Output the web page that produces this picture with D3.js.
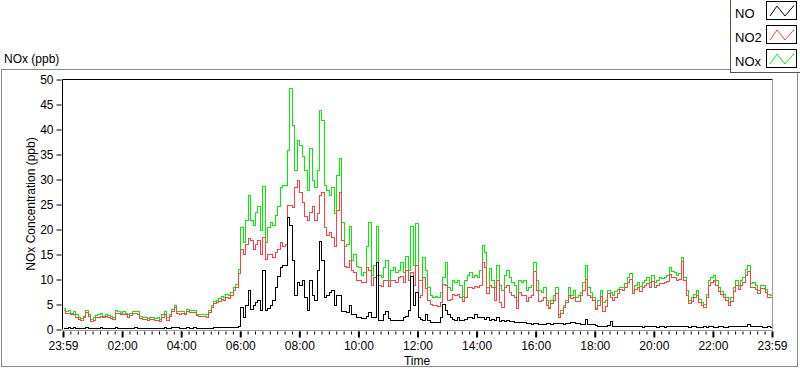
<!DOCTYPE html>
<html>
<head>
<meta charset="utf-8">
<script src="https://cdn.jsdelivr.net/npm/d3@7/dist/d3.min.js"></script>
<style>
  html, body { margin: 0; padding: 0; background: #fff; }
  svg { display: block; font-family: "Liberation Sans", Arial, sans-serif; }
</style>
</head>
<body>
<svg id="chart" width="800" height="369"></svg>
<script>
// ---- Data (5-minute samples starting 23:59) ----
const stepMinutes = 5;
const tickLabels = ["23:59","02:00","04:00","06:00","08:00","10:00","12:00","14:00","16:00","18:00","20:00","22:00","23:59"];
const yTicks = [0,5,10,15,20,25,30,35,40,45,50];
const seriesNames = ["NO","NO2","NOx"];
const seriesColors = ["#000000","#ff4040","#00f000"];

const NOx = [
4.4,3.8,3.9,3.4,3.6,3.0,2.5,2.3,2.8,4.0,3.1,2.2,
2.4,2.9,3.0,3.3,2.8,3.1,2.9,2.7,2.6,3.9,3.7,3.4,
3.6,3.4,3.0,3.3,3.7,3.8,3.6,2.7,2.5,2.6,2.3,2.5,
2.5,2.3,2.4,2.2,3.0,3.6,2.4,3.2,4.2,5.0,3.8,3.6,
3.8,3.4,4.1,3.9,3.9,4.0,3.2,3.1,3.0,3.2,3.0,3.9,
5.0,5.8,6.0,6.3,6.8,6.5,7.2,7.0,7.6,8.6,9.2,12.2,
20.5,17.5,22.0,27.0,22.0,21.0,23.5,24.7,20.0,28.7,17.5,20.5,
21.5,21.0,23.0,24.7,28.5,29.0,29.0,36.0,48.4,41.0,32.0,38.0,
37.0,34.7,32.0,28.0,36.4,30.0,28.5,32.0,44.0,42.0,29.0,28.0,
27.0,28.5,23.4,31.0,34.4,21.5,16.7,17.0,20.7,14.0,15.0,12.7,
12.5,11.0,11.5,16.7,21.5,11.0,13.0,20.7,11.0,10.5,12.5,14.0,
10.0,12.0,12.5,11.5,12.0,13.5,11.5,14.7,12.0,20.7,13.0,21.4,
10.0,9.9,14.5,12.0,8.5,7.0,6.6,6.8,6.5,7.5,10.5,13.5,
8.5,7.9,9.9,9.5,10.0,9.0,6.8,10.0,11.0,11.5,10.5,11.0,
10.5,12.0,16.9,15.5,8.6,12.4,10.0,8.5,13.0,9.0,8.0,11.0,
12.0,10.5,9.5,9.0,6.0,10.0,9.5,10.0,8.0,8.5,9.0,13.5,
10.0,8.0,7.5,8.5,6.0,4.5,5.9,7.0,8.6,3.2,4.0,5.0,
6.0,8.6,7.0,8.0,6.5,7.0,7.6,9.6,12.9,8.5,7.5,6.6,
4.3,6.0,8.0,5.5,6.0,8.0,7.5,7.0,7.8,8.2,8.6,8.6,
9.3,10.5,11.3,8.0,9.0,9.6,8.8,9.6,10.0,10.5,9.6,11.0,
9.6,10.0,10.5,10.4,10.5,11.0,12.5,11.7,11.5,11.0,11.3,14.5,
10.5,7.9,5.9,6.5,7.2,7.9,6.2,5.5,5.2,7.2,9.9,10.5,
11.0,10.0,8.6,7.8,7.2,6.6,5.6,6.5,8.6,9.9,9.0,10.0,
10.5,12.1,12.9,9.3,9.5,9.0,8.0,9.0,9.0,8.2,7.2,7.0,6.2
];
const NO2 = [
4.0,3.4,3.4,3.0,3.1,2.6,2.1,1.9,2.4,3.5,2.7,1.8,
2.0,2.5,2.6,2.8,2.4,2.7,2.5,2.3,2.2,3.4,3.3,3.0,
3.2,3.0,2.6,2.9,3.3,3.3,3.2,2.3,2.1,2.2,1.9,2.1,
2.1,1.9,2.0,1.8,2.6,3.1,2.0,2.8,3.7,4.5,3.3,3.2,
3.4,3.0,3.6,3.5,3.5,3.5,2.9,2.8,2.7,2.8,2.6,3.5,
4.6,5.3,5.5,5.7,6.2,6.0,6.6,6.4,7.0,8.0,8.5,11.4,
16.0,15.2,17.0,18.4,17.8,16.2,17.0,17.8,15.0,18.5,14.2,15.0,
15.2,14.5,15.5,16.0,17.5,16.8,17.0,25.0,25.0,24.5,28.5,30.0,
27.5,25.5,22.7,22.0,23.5,24.7,22.0,23.4,27.0,27.5,20.5,19.0,
19.5,18.5,16.7,24.0,27.5,18.0,12.7,12.5,14.0,12.0,11.5,10.0,
10.0,9.5,9.5,12.6,12.0,9.0,10.5,11.0,9.0,8.8,10.0,10.0,
8.7,10.0,10.0,9.5,10.5,10.7,9.5,12.0,10.0,11.5,9.0,12.9,
6.5,7.0,10.5,8.3,6.0,5.2,4.9,5.0,4.8,5.5,9.1,9.0,
6.0,6.2,7.2,7.0,7.2,6.5,5.7,6.6,8.5,8.5,8.3,8.7,
8.5,9.0,13.5,12.5,7.3,9.0,8.5,6.0,10.0,5.5,4.6,8.5,
9.0,7.5,7.0,6.5,4.3,7.5,7.0,7.0,5.8,6.5,7.0,11.7,
8.0,5.8,6.0,6.5,5.0,4.3,5.3,6.0,7.3,2.6,3.3,4.5,
5.5,7.0,6.4,6.5,5.8,5.8,7.0,8.0,10.2,7.0,6.5,5.9,
4.1,5.0,6.8,3.6,4.8,7.3,6.5,5.9,6.5,7.3,8.2,7.9,
8.5,9.5,10.2,7.3,8.2,8.5,7.8,8.5,9.0,9.3,8.6,9.8,
8.6,9.0,9.3,9.3,9.5,9.8,11.2,10.6,10.5,10.0,10.2,13.8,
10.0,7.0,5.3,5.8,6.5,7.0,5.5,4.9,4.6,6.5,9.0,9.5,
10.0,9.0,7.8,7.2,6.5,5.9,4.9,5.8,7.8,9.0,8.2,9.0,
9.5,11.0,11.8,8.5,8.6,8.2,7.3,8.3,8.3,7.5,6.5,6.5,5.8
];
const NO = [
0.4,0.4,0.5,0.4,0.5,0.4,0.4,0.4,0.4,0.5,0.4,0.4,
0.4,0.4,0.4,0.5,0.4,0.4,0.4,0.4,0.4,0.5,0.4,0.4,
0.4,0.4,0.4,0.4,0.4,0.5,0.4,0.4,0.4,0.4,0.4,0.4,
0.4,0.4,0.4,0.4,0.4,0.5,0.4,0.4,0.5,0.5,0.5,0.4,
0.4,0.4,0.5,0.4,0.4,0.5,0.3,0.3,0.3,0.4,0.4,0.4,
0.4,0.5,0.5,0.5,0.5,0.5,0.5,0.5,0.5,0.6,0.6,0.8,
4.5,2.5,5.0,8.0,4.2,5.0,5.5,6.0,4.0,12.0,4.0,4.3,
5.0,6.0,8.5,10.7,12.5,13.0,13.0,22.5,21.0,14.0,7.0,9.5,
9.0,10.0,6.5,4.0,10.0,7.0,6.0,12.0,17.6,14.0,6.5,7.0,
7.5,8.0,5.0,7.0,7.0,3.7,3.7,3.5,5.0,3.0,3.0,2.5,
2.5,2.3,2.3,2.7,3.5,2.5,2.5,13.5,2.0,2.0,3.0,3.7,
2.3,1.9,1.9,2.0,2.0,2.0,2.5,2.7,4.0,10.7,5.0,7.5,
2.5,2.2,2.0,3.0,2.0,1.6,1.5,1.5,1.5,2.5,5.2,4.0,
3.0,2.5,2.2,2.0,2.5,2.0,2.0,2.2,2.5,2.5,2.3,3.0,
2.5,2.5,2.5,2.2,2.5,2.0,2.2,2.0,2.5,1.8,2.0,1.8,
2.0,1.8,1.8,1.6,1.5,1.6,1.5,1.5,1.3,1.3,1.2,1.3,
1.3,1.2,1.2,1.2,1.3,1.3,1.2,1.3,1.4,1.3,1.3,1.2,
1.3,1.4,1.5,1.5,1.4,1.3,1.2,1.1,2.2,1.0,1.0,1.0,
0.9,0.8,0.8,0.8,0.8,0.9,1.8,0.8,0.8,0.7,0.7,0.7,
0.7,0.7,0.8,0.7,0.7,0.7,0.7,0.6,0.7,0.7,0.7,0.7,
0.7,0.6,0.7,0.7,0.6,0.7,0.7,0.7,0.7,0.8,0.7,0.8,
0.8,0.7,0.6,0.7,0.7,0.6,0.6,0.6,0.7,0.6,0.7,0.7,
0.6,0.6,0.7,0.7,0.6,0.6,0.7,0.7,0.7,0.8,0.7,0.7,
0.8,0.8,1.0,0.7,0.7,0.7,0.7,0.7,0.6,0.6,0.7,0.6,0.6
];

// ---- Layout ----
const svg = d3.select("#chart");
const plot = { left: 62.5, right: 772.5, top: 79.5, bottom: 329.5 };
const totalMinutes = 1440;

const x = d3.scaleLinear().domain([0, totalMinutes]).range([63, 772]);
const y = d3.scaleLinear().domain([0, 50]).range([329.5, 79.5]);
const px = v => Math.round(v) + 0.5;   // snap to pixel centres for crisp 1px lines

// Outer frame
svg.append("rect").attr("x", 1.5).attr("y", 69.5).attr("width", 796).attr("height", 297)
  .attr("fill", "none").attr("stroke", "#8a8a8a").attr("stroke-width", 1);

// Title
svg.append("text").attr("x", 4).attr("y", 63).attr("font-size", 12).attr("fill", "#000")
  .text("NOx (ppb)");

// Plot background
svg.append("rect").attr("x", plot.left).attr("y", plot.top)
  .attr("width", plot.right - plot.left).attr("height", plot.bottom - plot.top)
  .attr("fill", "#fff");

// Series lines (NOx drawn first, NO on top)
const series = [
  { name: "NOx", values: NOx, color: seriesColors[2] },
  { name: "NO2", values: NO2, color: seriesColors[1] },
  { name: "NO",  values: NO,  color: seriesColors[0] }
];
const line = d3.line()
  .x((d, i) => px(x(i * stepMinutes)))
  .y(d => px(y(d)))
  .curve(d3.curveStepAfter);

svg.append("clipPath").attr("id", "clipPlot").append("rect")
  .attr("x", plot.left).attr("y", plot.top)
  .attr("width", plot.right - plot.left).attr("height", plot.bottom - plot.top);

const gLines = svg.append("g").attr("clip-path", "url(#clipPlot)");
series.forEach(s => {
  gLines.append("path").datum(s.values)
    .attr("d", line)
    .attr("fill", "none")
    .attr("stroke", s.color)
    .attr("stroke-width", 1)
    .attr("shape-rendering", "crispEdges");
});

// Plot frame: dark top/left, light bottom/right
svg.append("line").attr("x1", plot.left).attr("x2", plot.right).attr("y1", plot.top).attr("y2", plot.top)
  .attr("stroke", "#000");
svg.append("line").attr("x1", plot.left).attr("x2", plot.left).attr("y1", plot.top).attr("y2", plot.bottom)
  .attr("stroke", "#000");
svg.append("line").attr("x1", plot.right).attr("x2", plot.right).attr("y1", plot.top).attr("y2", plot.bottom)
  .attr("stroke", "#9a9a9a");
svg.append("line").attr("x1", plot.left).attr("x2", plot.right).attr("y1", plot.bottom + 1).attr("y2", plot.bottom + 1)
  .attr("stroke", "#9a9a9a");

// Y axis
const yAxis = d3.axisLeft(y).tickValues(yTicks).tickSize(5).tickPadding(3).tickFormat(d3.format("d"));
const gy = svg.append("g").attr("transform", `translate(${plot.left - 1},0)`).call(yAxis);
gy.select(".domain").remove();
gy.selectAll("text").attr("font-size", 12).attr("font-family", "Liberation Sans, Arial, sans-serif").attr("fill", "#000");
gy.selectAll("line").attr("stroke", "#000");

// X axis: minor ticks every 15 minutes, major every 120 minutes
const minorVals = d3.range(0, totalMinutes + 1, 15);
const majorVals = d3.range(0, totalMinutes + 1, 120);
const gxMinor = svg.append("g").attr("transform", `translate(0,${plot.bottom + 2})`)
  .call(d3.axisBottom(x).tickValues(minorVals).tickSize(3).tickFormat(""));
gxMinor.select(".domain").remove();
gxMinor.selectAll("line").attr("stroke", "#000").attr("stroke-width", 1);
const gxMajor = svg.append("g").attr("transform", `translate(0,${plot.bottom + 2})`)
  .call(d3.axisBottom(x).tickValues(majorVals).tickSize(6).tickPadding(4)
    .tickFormat((d, i) => tickLabels[i]));
gxMajor.select(".domain").remove();
gxMajor.selectAll("line").attr("stroke", "#000").attr("stroke-width", 2);
gxMajor.selectAll("text").attr("font-size", 12).attr("font-family", "Liberation Sans, Arial, sans-serif").attr("fill", "#000");

// Axis titles
svg.append("text").attr("x", 417).attr("y", 365).attr("text-anchor", "middle")
  .attr("font-size", 12).attr("fill", "#000").text("Time");
svg.append("text").attr("transform", "translate(35,204) rotate(-90)").attr("text-anchor", "middle")
  .attr("font-size", 12).attr("fill", "#000").text("NOx Concentration (ppb)");

// Legend
const lg = svg.append("g");
lg.append("rect").attr("x", 730.5).attr("y", -1).attr("width", 70).attr("height", 73.5)
  .attr("fill", "#fff").attr("stroke", "#555");
[0, 1, 2].forEach((k, i) => {
  const top = 1.5 + i * 24;
  lg.append("text").attr("x", 735).attr("y", top + 16.5).attr("font-size", 13).attr("fill", "#000")
    .text(seriesNames[k]);
  lg.append("rect").attr("x", 766.5).attr("y", top).attr("width", 30).attr("height", 18)
    .attr("fill", "#fff").attr("stroke", "#000");
  const pts = [[770, top + 14.5], [777, top + 4.5], [785, top + 14.5], [794, top + 4]];
  lg.append("path").attr("d", d3.line()(pts)).attr("fill", "none")
    .attr("stroke", seriesColors[k]).attr("stroke-width", 1);
});
</script>
</body>
</html>
